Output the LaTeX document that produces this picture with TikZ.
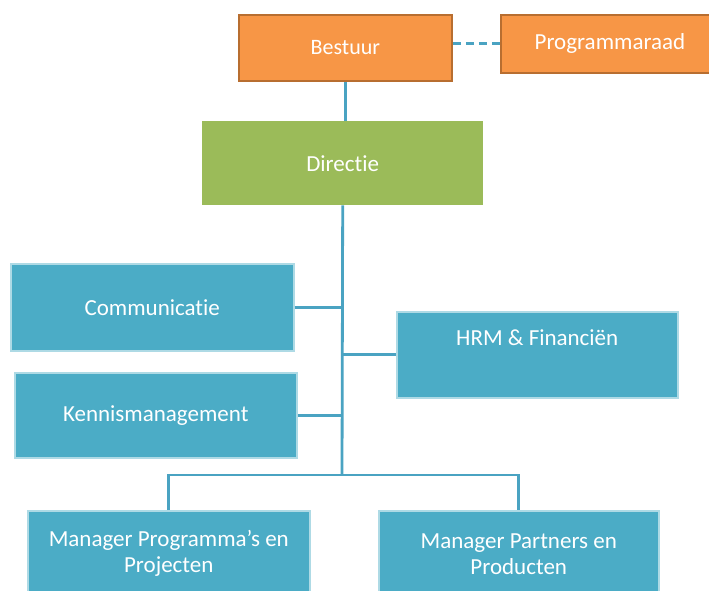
\documentclass[tikz,border=0pt]{standalone}
\usepackage{fontspec}
\setmainfont{Carlito}[Ligatures={NoCommon}]
\definecolor{orangefill}{HTML}{F79646}
\definecolor{orangeline}{HTML}{B86E30}
\definecolor{greenfill}{HTML}{9BBB59}
\definecolor{bluefill}{HTML}{4BACC6}
\definecolor{blueline}{HTML}{4AA3C2}
\begin{document}
\begin{tikzpicture}[x=1pt,y=-1pt,
  orgbox/.style={rectangle,anchor=north west,inner sep=0pt,align=center,
    text=white,font=\fontsize{23}{26}\selectfont},
  topbox/.style={orgbox,fill=orangefill,draw=orangeline,line width=1.8pt},
  headbox/.style={orgbox,fill=greenfill},
  unitbox/.style={orgbox,fill=bluefill,draw=bluefill!45!white,line width=1.5pt},
  link/.style={draw=blueline,line width=2.8pt}]
\useasboundingbox (0,0) rectangle (709,591);
\clip (0,0) rectangle (709,591);

% bovenste laag
\node[topbox,minimum width=213pt,minimum height=66pt,font=\fontsize{22}{26}\selectfont] (bestuur) at (238,14) {Bestuur};
\node[topbox,minimum width=218pt,minimum height=58pt] (raad) at (500,14) {Programmaraad};
\node[headbox,minimum width=281pt,minimum height=84pt] (directie) at (202,121) {Directie};

% stafafdelingen
\node[unitbox,minimum width=283pt,minimum height=87pt] (comm) at (10,263) {Communicatie};
\node[unitbox,minimum width=282pt,minimum height=85pt] (kennis) at (14,372) {Kennismanagement};
\node[unitbox,minimum width=281pt,minimum height=86pt] (hrm) at (396,311) {HRM \& Financiën\\ \strut};

% managers
\node[unitbox,minimum width=282pt,minimum height=86pt] (mpp) at (27,510) {Manager Programma’s en\\Projecten};
\node[unitbox,minimum width=280pt,minimum height=86pt] (mpr) at (378,510) {Manager Partners en\\Producten};

% lijnen
\coordinate (split) at (342,475);
\draw[link,dash pattern=on 8pt off 5pt] (raad.west -| bestuur.east) -- (raad.west);
\draw[link] (bestuur.south) -- (bestuur.south |- directie.north);
\draw[link] (directie.south) -- (split);
\draw[link] (comm.east) -- (comm.east -| directie.south);
\draw[link] (kennis.east) -- (kennis.east -| directie.south);
\draw[link] (hrm.west) -- (hrm.west -| directie.south);
\draw[link] (mpp.north) |- (split) -| (mpr.north);

\end{tikzpicture}
\end{document}
